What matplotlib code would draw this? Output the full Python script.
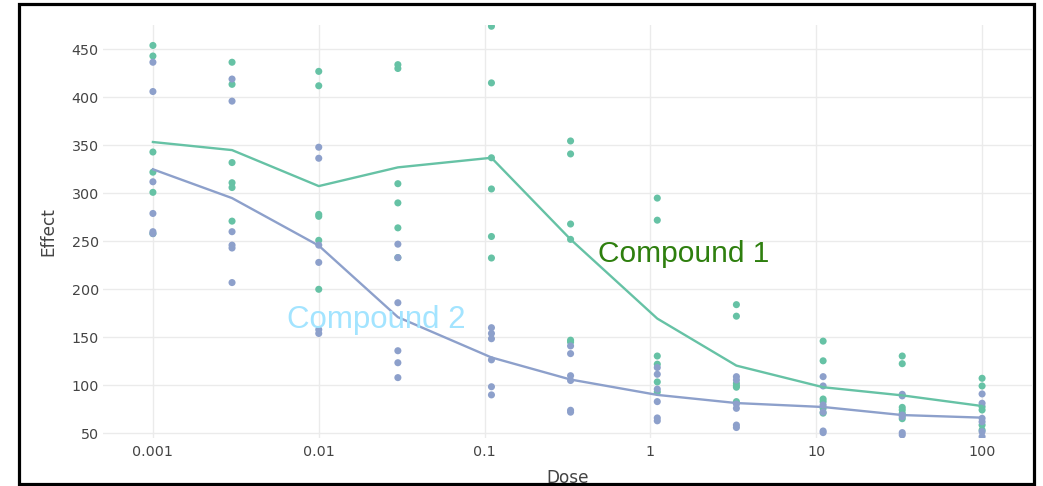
import matplotlib
matplotlib.use("Agg")
import matplotlib.pyplot as plt
from matplotlib.patches import Rectangle
from matplotlib.ticker import FixedLocator, FixedFormatter, NullLocator

# ---------------- data ----------------
doses = [0.001, 0.003, 0.01, 0.03, 0.11, 0.33, 1.1, 3.3, 11, 33, 100]

compound1_effect = [
    [454, 443, 343, 322, 301, 258],
    [436.5, 413.5, 332, 311, 306, 271],
    [427, 412, 278, 276, 251, 200],
    [434, 430, 310, 290, 264, 233],
    [474, 415, 337, 304.5, 255, 232.6],
    [354.5, 341, 268, 252, 147, 145],
    [295, 272, 130.5, 122, 103.5, 93],
    [184, 172, 102, 99.5, 98, 83],
    [146, 125.5, 85.7, 83, 76, 71],
    [130.5, 122.5, 77, 74.3, 70.8, 65.2],
    [107.3, 99.3, 77.7, 74.3, 58.6, 53.4],
]

compound2_effect = [
    [436.5, 406, 312, 279, 260, 258],
    [419, 396, 260, 246, 243, 207],
    [348, 336.5, 246, 228, 158, 154],
    [247, 233, 186, 136, 123.5, 108],
    [160, 154, 148.5, 126.5, 98.5, 90],
    [141, 133, 110, 105, 74, 72],
    [118.5, 111.5, 96, 83, 66, 63],
    [109, 105.5, 80.5, 76, 58.6, 56],
    [109, 99.3, 79.5, 72, 52.4, 50.7],
    [90.6, 89, 69, 67.3, 50.7, 48.3],
    [91, 81.3, 65.6, 62, 51.7, 46.5],
]

compound1_mean = [353.4, 345, 307.5, 327, 337, 252, 169.5, 120.5, 98, 89.5, 78.4]
compound2_mean = [325, 295, 245.5, 171, 129, 106, 90, 81.5, 77.4, 69, 66.3]

series_names = ["Compound 1", "Compound 2"]
x_tick_values = [0.001, 0.01, 0.1, 1, 10, 100]
x_tick_labels = ["0.001", "0.01", "0.1", "1", "10", "100"]
y_tick_values = [50, 100, 150, 200, 250, 300, 350, 400, 450]

# ---------------- style ----------------
W, H = 1043, 486
color1 = "#66c2a5"
color2 = "#8da0cb"
label1_color = "#2e7f0e"
label2_color = "#a3e4ff"
text_color = "#444444"
grid_color = "#ebebeb"

fig = plt.figure(figsize=(W / 100, H / 100), dpi=100)
ax_left, ax_right, ax_top, ax_bottom = 103, 1032, 25, 438
ax = fig.add_axes([ax_left / W, 1 - ax_bottom / H,
                   (ax_right - ax_left) / W, (ax_bottom - ax_top) / H])

ax.set_xscale("log")

# scatter points
for data, col in ((compound1_effect, color1), (compound2_effect, color2)):
    xs, ys = [], []
    for d, vals in zip(doses, data):
        xs.extend([d] * len(vals))
        ys.extend(vals)
    ax.scatter(xs, ys, s=26, color=col, edgecolors="none", zorder=3)

# mean lines
ax.plot(doses, compound1_mean, color=color1, lw=1.7, zorder=4)
ax.plot(doses, compound2_mean, color=color2, lw=1.7, zorder=4)

# limits (pixel-calibrated)
ax.set_xlim(10 ** (-3.301), 10 ** (2.301))
ax.set_ylim(45.1, 475.3)

ax.xaxis.set_major_locator(FixedLocator(x_tick_values))
ax.xaxis.set_major_formatter(FixedFormatter(x_tick_labels))
ax.xaxis.set_minor_locator(NullLocator())
ax.set_yticks(y_tick_values)

ax.grid(True, color=grid_color, lw=1.0, zorder=0)
ax.set_axisbelow(True)
for sp in ax.spines.values():
    sp.set_visible(False)
ax.tick_params(axis="both", length=0, labelsize=10.3, colors=text_color)
ax.tick_params(axis="x", pad=5)
ax.tick_params(axis="y", pad=3)

ax.set_xlabel("Dose", fontsize=12.2, color=text_color)
ax.xaxis.label.set_va("center")
ax.xaxis.set_label_coords(0.5, -(478 - ax_bottom) / (ax_bottom - ax_top))
ax.set_ylabel("Effect", fontsize=12.2, color=text_color)
ax.yaxis.label.set_va("center")
ax.yaxis.label.set_ha("center")
ax.yaxis.set_label_coords(-(ax_left - 48) / (ax_right - ax_left), 0.5)

# in-plot labels
ax.text(0.48, 228.4, series_names[0], color=label1_color, fontsize=21.5,
        family=["Liberation Sans", "DejaVu Sans"], ha="left", va="baseline", zorder=5)
ax.text(0.00641, 159.7, series_names[1], color=label2_color, fontsize=22.5,
        family=["Liberation Sans", "DejaVu Sans"], ha="left", va="baseline", zorder=5)

# black frame around the figure
fig.add_artist(Rectangle((18.5 / W, 1 - 484 / H), (1033.5 - 18.5) / W, (484 - 4.5) / H,
                         transform=fig.transFigure, fill=False, ec="black", lw=2.3))

fig.savefig("out.png", dpi=100)
